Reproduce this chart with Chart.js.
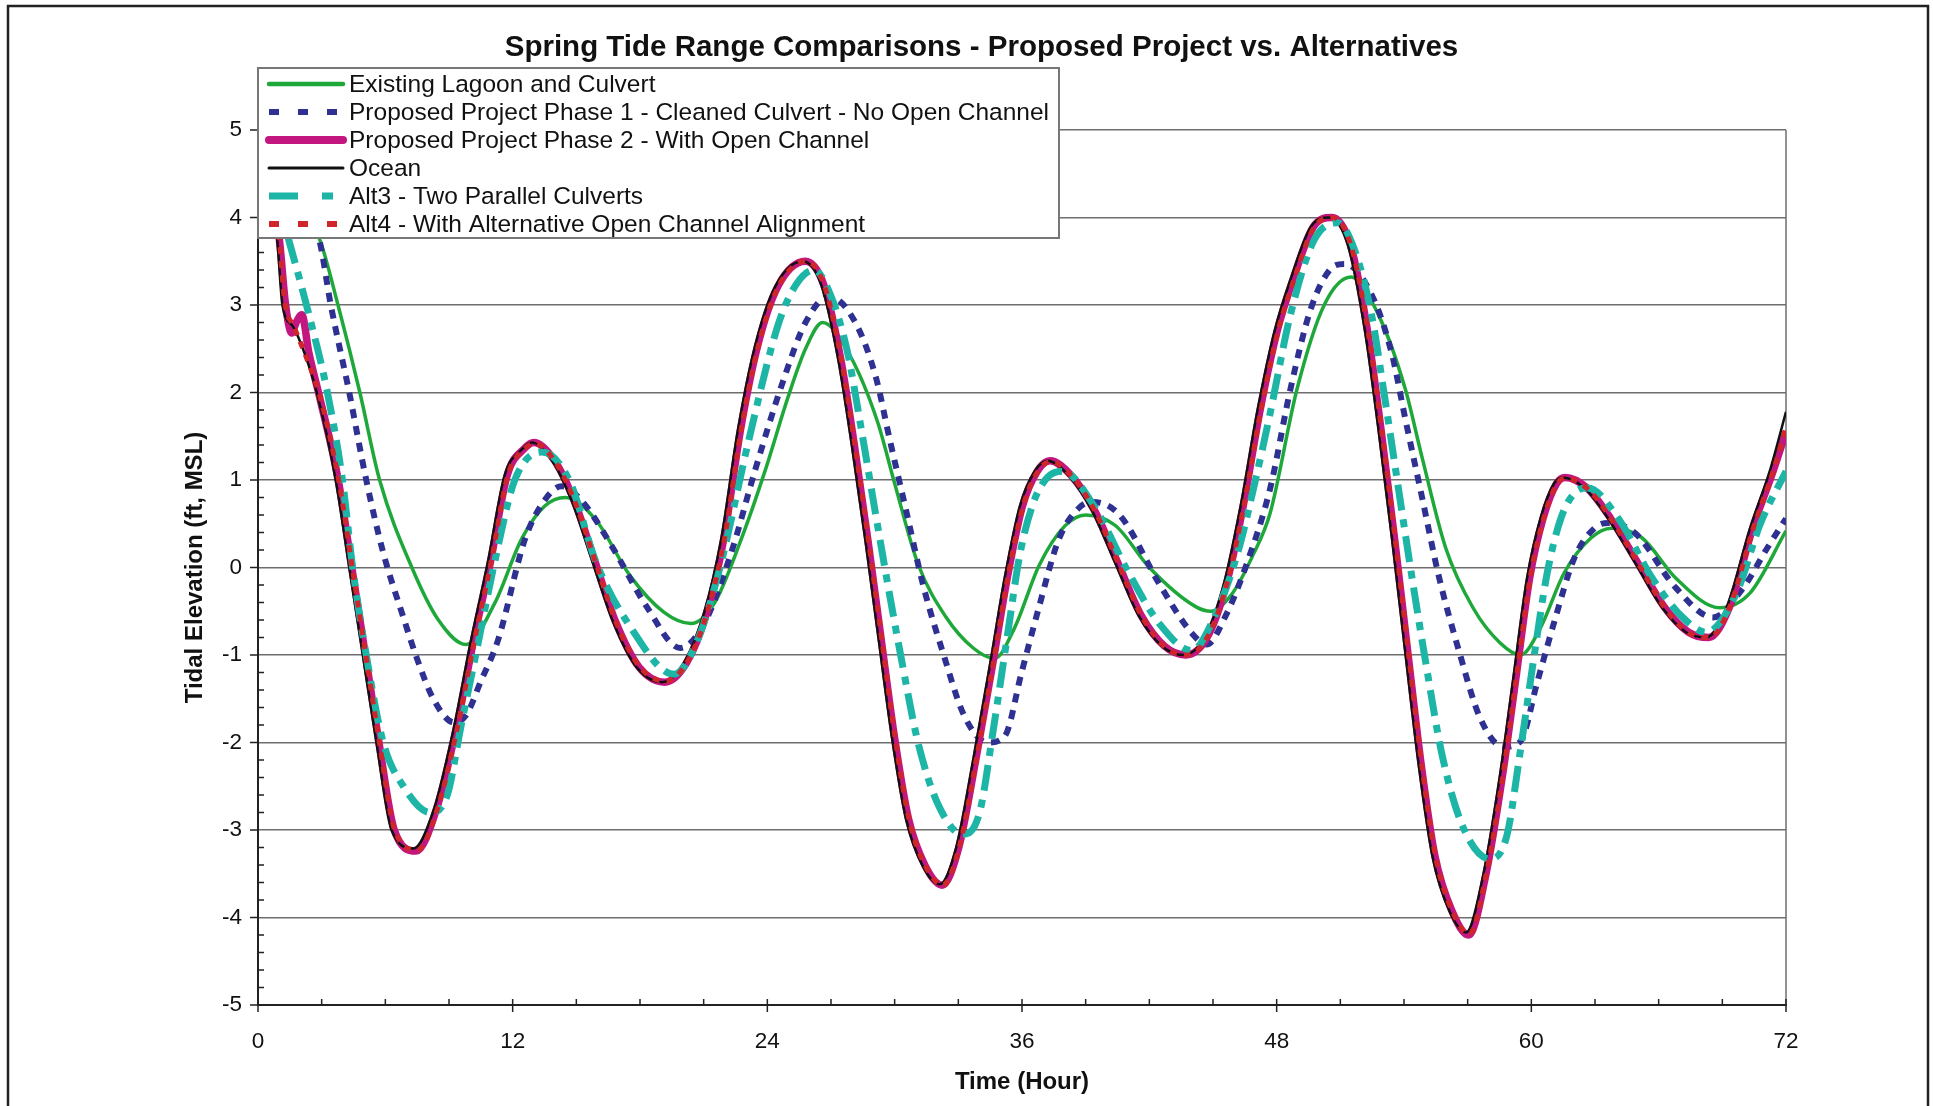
<!DOCTYPE html>
<html>
<head>
<meta charset="utf-8">
<title>Spring Tide Range Comparisons</title>
<script src="https://cdn.jsdelivr.net/npm/chart.js@4.4.1/dist/chart.umd.min.js"></script>
<style>
  html, body { margin: 0; padding: 0; background: #fff; }
  #wrap { position: relative; width: 1933px; height: 1106px; }
</style>
</head>
<body>
<div id="wrap"><canvas id="tideChart" width="1933" height="1106"></canvas></div>
<script>
// axis ticks
const xTicks = [0, 12, 24, 36, 48, 60, 72];
const yTicks = [-5, -4, -3, -2, -1, 0, 1, 2, 3, 4, 5];

const chartTitle = 'Spring Tide Range Comparisons - Proposed Project vs. Alternatives';
const seriesNames = [
    'Existing Lagoon and Culvert',
    'Proposed Project Phase 1 - Cleaned Culvert - No Open Channel',
    'Proposed Project Phase 2 - With Open Channel',
    'Ocean',
    'Alt3 - Two Parallel Culverts',
    'Alt4 - With Alternative Open Channel Alignment'
];

// [hour, elevation ft MSL]
const existing = [
    [0, 4.55], [1.5, 4.35], [2.92, 3.74], [3.77, 3.0], [4.8, 2.0], [5.73, 1.0], [7.25, 0.0], [8.5, -0.6],
    [9.8, -0.88], [11.15, -0.41], [12.43, 0.33], [13.5, 0.7], [14.5, 0.8], [15.93, 0.54], [17.52, -0.09],
    [19.12, -0.51], [20.4, -0.64], [21.5, -0.41], [22.78, 0.33], [23.9, 1.11], [24.98, 1.95], [25.8, 2.5],
    [26.6, 2.8], [27.9, 2.42], [29.2, 1.66], [30.0, 0.96], [31.1, 0.04], [32.4, -0.56], [33.7, -0.92],
    [34.7, -1.04], [35.65, -0.69], [36.8, 0.02], [38.0, 0.47], [39.0, 0.6], [40.4, 0.48], [42.0, 0.0],
    [44.2, -0.45], [44.9, -0.5], [45.9, -0.3], [46.9, 0.15], [47.69, 0.62], [48.96, 2.04], [50.24, 3.0],
    [51.51, 3.32], [52.79, 2.89], [54.06, 2.04], [54.86, 1.25], [55.97, 0.22], [57.25, -0.46], [58.52, -0.86],
    [59.48, -1.0], [60.43, -0.69], [61.55, -0.06], [62.82, 0.34], [63.78, 0.45], [65.21, 0.34], [66.8, -0.12],
    [68.88, -0.46], [70.31, -0.29], [72, 0.42]
];

const phase1 = [
    [0, 4.6], [1.5, 4.3], [2.87, 3.76], [3.43, 3.0], [4.3, 2.0], [5.1, 1.0], [5.9, 0.17], [6.85, -0.57],
    [7.49, -1.04], [8.28, -1.51], [9.24, -1.77], [9.8, -1.69], [10.5, -1.3], [11.31, -0.83], [12.59, 0.33],
    [13.54, 0.78], [14.3, 0.93], [15.3, 0.75], [16.73, 0.22], [18.32, -0.45], [19.9, -0.92], [21.0, -0.65],
    [22.3, 0.17], [23.42, 1.11], [24.7, 2.1], [25.8, 2.8], [26.9, 3.1], [28.17, 2.79], [29.13, 2.16],
    [29.76, 1.47], [30.56, 0.63], [31.36, -0.22], [32.31, -1.0], [33.27, -1.69], [34.38, -2.0], [35.18, -1.93],
    [35.98, -1.2], [36.78, -0.47], [37.73, 0.32], [38.68, 0.68], [39.32, 0.75], [40.6, 0.6], [42.5, -0.2],
    [44.0, -0.75], [44.7, -0.88], [45.6, -0.55], [46.6, 0.05], [47.69, 0.9], [48.65, 2.04], [49.6, 2.95],
    [50.5, 3.4], [51.2, 3.47], [52.47, 3.12], [53.43, 2.44], [54.06, 1.7], [54.86, 0.79], [55.66, -0.12],
    [56.61, -0.97], [57.57, -1.71], [58.68, -2.05], [59.48, -1.99], [60.28, -1.31], [61.07, -0.63],
    [62.03, 0.11], [62.98, 0.45], [63.62, 0.51], [64.9, 0.39], [66.8, -0.23], [68.56, -0.57], [69.99, -0.23],
    [71.11, 0.22], [72, 0.56]
];

const phase2 = [
    [0, 4.75], [0.5, 4.35], [1.0, 3.76], [1.3, 3.0], [1.59, 2.68], [1.8, 2.8], [2.06, 2.89], [2.4, 2.45],
    [2.9, 1.95], [3.78, 1.0], [4.42, 0.0], [5.06, -1.0], [5.7, -2.0], [6.42, -3.0], [7.45, -3.24], [8.4, -2.77],
    [9.36, -1.82], [10.16, -0.83], [10.95, 0.06], [11.75, 1.06], [12.55, 1.36], [13.0, 1.43], [13.98, 1.22],
    [14.92, 0.75], [15.89, 0.06], [16.85, -0.62], [17.96, -1.14], [19.16, -1.31], [20.19, -1.09], [21.15, -0.51],
    [21.95, 0.33], [22.74, 1.58], [23.54, 2.53], [24.49, 3.21], [25.79, 3.5], [26.66, 3.23], [27.46, 2.38],
    [28.1, 1.4], [28.74, 0.31], [29.37, -0.83], [30.01, -1.97], [30.65, -2.87], [31.44, -3.41], [32.24, -3.63],
    [33.02, -3.2], [33.82, -2.2], [34.62, -1.1], [35.32, -0.1], [36.02, 0.7], [36.72, 1.1], [37.32, 1.22],
    [38.32, 1.05], [39.42, 0.65], [40.52, 0.05], [41.62, -0.55], [42.72, -0.9], [43.72, -1.0], [44.72, -0.8],
    [45.62, -0.2], [46.42, 0.7], [47.22, 1.8], [48.02, 2.7], [48.77, 3.29], [49.72, 3.89], [50.6, 4.0],
    [51.47, 3.69], [52.27, 2.72], [52.91, 1.59], [53.55, 0.34], [54.18, -0.97], [54.82, -2.27], [55.46, -3.3],
    [56.25, -3.92], [57.05, -4.2], [57.85, -3.52], [58.64, -2.38], [59.28, -1.25], [59.92, -0.12], [60.55, 0.56],
    [61.19, 0.96], [61.59, 1.03], [62.62, 0.91], [63.74, 0.56], [65.02, 0.05], [66.29, -0.46], [67.41, -0.74],
    [68.36, -0.8], [69.32, -0.46], [70.43, 0.45], [71.39, 1.1], [72, 1.55]
];

const ocean = [
    [0, 4.7], [0.5, 4.3], [0.9, 3.76], [1.15, 3.0], [1.66, 2.75], [2.13, 2.49], [2.77, 2.0], [3.66, 1.0],
    [4.3, 0.0], [4.94, -1.0], [5.58, -2.0], [6.29, -3.0], [7.33, -3.21], [8.28, -2.77], [9.24, -1.82],
    [10.04, -0.83], [10.83, 0.06], [11.63, 1.06], [12.43, 1.35], [12.9, 1.43], [13.86, 1.22], [14.8, 0.75],
    [15.77, 0.06], [16.73, -0.62], [17.84, -1.14], [19.04, -1.31], [20.07, -1.09], [21.03, -0.51], [21.83, 0.33],
    [22.62, 1.58], [23.42, 2.53], [24.37, 3.21], [25.67, 3.5], [26.54, 3.23], [27.34, 2.38], [27.98, 1.4],
    [28.62, 0.31], [29.25, -0.83], [29.89, -1.97], [30.53, -2.87], [31.32, -3.41], [32.12, -3.62], [32.9, -3.2],
    [33.7, -2.2], [34.5, -1.1], [35.2, -0.1], [35.9, 0.7], [36.6, 1.1], [37.2, 1.22], [38.2, 1.05], [39.3, 0.65],
    [40.4, 0.05], [41.5, -0.55], [42.6, -0.9], [43.6, -1.0], [44.6, -0.8], [45.5, -0.2], [46.3, 0.7], [47.1, 1.8],
    [47.9, 2.7], [48.65, 3.29], [49.6, 3.89], [50.48, 4.0], [51.35, 3.69], [52.15, 2.72], [52.79, 1.59],
    [53.43, 0.34], [54.06, -0.97], [54.7, -2.27], [55.34, -3.3], [56.13, -3.92], [56.93, -4.17], [57.73, -3.52],
    [58.52, -2.38], [59.16, -1.25], [59.8, -0.12], [60.43, 0.56], [61.07, 0.96], [61.47, 1.03], [62.5, 0.91],
    [63.62, 0.56], [64.9, 0.05], [66.17, -0.46], [67.29, -0.74], [68.24, -0.8], [69.2, -0.46], [70.31, 0.45],
    [71.27, 1.13], [72, 1.78]
];

const alt3 = [
    [0, 4.9], [0.7, 4.4], [1.43, 3.76], [2.39, 2.9], [3.27, 2.0], [3.98, 1.0], [4.46, 0.0], [5.1, -1.0],
    [5.9, -2.0], [6.85, -2.5], [8.12, -2.8], [8.92, -2.6], [9.56, -1.82], [10.36, -0.88], [11.15, 0.06],
    [12.1, 1.0], [13.38, 1.32], [14.66, 1.0], [15.93, 0.06], [17.52, -0.67], [19.6, -1.22], [20.71, -0.83],
    [21.83, 0.06], [23.1, 1.43], [24.53, 2.79], [25.4, 3.25], [26.2, 3.4], [26.97, 3.12], [27.77, 2.47],
    [28.4, 1.62], [29.04, 0.7], [29.68, -0.2], [30.32, -1.05], [31.11, -2.01], [32.07, -2.72], [33.2, -3.05],
    [34.0, -2.8], [34.65, -1.85], [35.3, -0.8], [35.9, 0.15], [36.55, 0.75], [37.2, 1.03], [37.9, 1.1],
    [39.4, 0.7], [41.0, -0.05], [42.5, -0.65], [44.0, -0.95], [45.0, -0.6], [46.2, 0.2], [47.0, 1.0],
    [47.69, 1.76], [48.65, 2.89], [49.76, 3.74], [50.88, 3.94], [51.67, 3.63], [52.47, 2.89], [53.1, 1.93],
    [53.74, 0.9], [54.38, -0.12], [55.02, -1.08], [55.81, -2.16], [56.77, -2.96], [58.05, -3.33], [58.84, -3.07],
    [59.48, -2.1], [60.12, -1.03], [60.75, -0.06], [61.39, 0.56], [62.03, 0.85], [62.66, 0.91], [64.1, 0.56],
    [65.69, -0.12], [67.13, -0.57], [68.24, -0.74], [69.67, -0.29], [70.79, 0.5], [72, 1.1]
];

const alt4 = [
    [0, 4.75], [0.5, 4.35], [1.0, 3.76], [1.25, 3.05], [1.7, 2.75], [2.2, 2.45], [2.9, 1.97], [3.8, 1.0],
    [4.44, 0.0], [5.08, -1.0], [5.72, -2.0], [6.44, -3.0], [7.5, -3.23], [8.44, -2.77], [9.4, -1.82],
    [10.2, -0.83], [10.98, 0.06], [11.78, 1.06], [12.58, 1.36], [13.02, 1.42], [14.0, 1.21], [14.95, 0.74],
    [15.92, 0.05], [16.88, -0.63], [18.0, -1.14], [19.2, -1.3], [20.22, -1.08], [21.18, -0.5], [21.98, 0.33],
    [22.77, 1.58], [23.57, 2.53], [24.52, 3.21], [25.82, 3.5], [26.69, 3.22], [27.49, 2.37], [28.13, 1.39],
    [28.77, 0.3], [29.4, -0.84], [30.04, -1.98], [30.68, -2.88], [31.47, -3.42], [32.27, -3.63], [33.05, -3.19],
    [33.85, -2.19], [34.65, -1.09], [35.35, -0.09], [36.05, 0.7], [36.75, 1.1], [37.35, 1.21], [38.35, 1.04],
    [39.45, 0.64], [40.55, 0.04], [41.65, -0.56], [42.75, -0.91], [43.75, -1.0], [44.75, -0.79], [45.65, -0.19],
    [46.45, 0.7], [47.25, 1.79], [48.05, 2.69], [48.8, 3.28], [49.75, 3.88], [50.63, 4.0], [51.5, 3.68],
    [52.3, 2.71], [52.94, 1.58], [53.58, 0.33], [54.21, -0.98], [54.85, -2.28], [55.49, -3.31], [56.28, -3.93],
    [57.08, -4.19], [57.88, -3.5], [58.67, -2.36], [59.31, -1.23], [59.95, -0.11], [60.58, 0.56], [61.22, 0.96],
    [61.62, 1.02], [62.65, 0.9], [63.77, 0.55], [65.05, 0.04], [66.32, -0.47], [67.44, -0.75], [68.39, -0.8],
    [69.35, -0.45], [70.46, 0.45], [71.42, 1.12], [72, 1.6]
];

const seriesData = [existing, phase1, phase2, ocean, alt3, alt4];

// line looks, same order as seriesNames
const seriesStyle = [
    { color: '#1fa83a', width: 3.5, dash: [], keyWidth: 4.5, keyDash: [] },
    { color: '#2e3192', width: 6, dash: [9, 8], keyWidth: 6, keyDash: [10, 19] },
    { color: '#c3177f', width: 7.5, dash: [], keyWidth: 8, keyDash: [] },
    { color: '#111111', width: 2.5, dash: [], keyWidth: 3, keyDash: [] },
    { color: '#1db5a6', width: 7, dash: [26, 9, 8, 9], keyWidth: 7, keyDash: [29, 24, 11, 40] },
    { color: '#d0262b', width: 5, dash: [7, 7], keyWidth: 6, keyDash: [10, 19] }
];

const FONT = "'Liberation Sans', Arial, sans-serif";
Chart.defaults.font.family = FONT;

// extra axis ticks, plot border, legend box and outer frame
const tideDecor = {
    id: 'tideDecor',
    beforeDatasetsDraw(chart) {
        const { ctx, chartArea: a, scales: { x, y } } = chart;
        ctx.save();
        ctx.strokeStyle = '#6e6e6e';
        ctx.lineWidth = 1.5;
        ctx.beginPath();
        ctx.moveTo(a.right, a.top);
        ctx.lineTo(a.right, a.bottom);
        ctx.stroke();

        ctx.strokeStyle = '#222';
        ctx.lineWidth = 1.5;
        ctx.beginPath();
        yTicks.forEach(v => {
            const py = y.getPixelForValue(v);
            ctx.moveTo(a.left - 8, py);
            ctx.lineTo(a.left, py);
        });
        for (let k = -25; k <= 25; k++) {
            if (k % 5 === 0) continue;
            const py = y.getPixelForValue(k / 5);
            ctx.moveTo(a.left, py);
            ctx.lineTo(a.left + 6, py);
        }
        for (let h = 0; h <= 72; h += 3) {
            const px = x.getPixelForValue(h);
            ctx.moveTo(px, a.bottom - 6);
            ctx.lineTo(px, h % 12 === 0 ? a.bottom + 7 : a.bottom);
        }
        ctx.stroke();
        ctx.restore();
    },
    afterDatasetsDraw(chart) {
        const { ctx, chartArea: a } = chart;
        const box = { x: a.left, y: 68, w: 801, h: 170 };
        ctx.save();
        ctx.fillStyle = '#fff';
        ctx.fillRect(box.x, box.y, box.w, box.h);
        ctx.strokeStyle = '#777';
        ctx.lineWidth = 2;
        ctx.strokeRect(box.x, box.y, box.w, box.h);

        ctx.font = '24.5px ' + FONT;
        ctx.fillStyle = '#111';
        ctx.textBaseline = 'middle';
        seriesNames.forEach((name, i) => {
            const st = seriesStyle[i];
            const cy = box.y + 16 + i * 28;
            ctx.strokeStyle = st.color;
            ctx.lineWidth = st.keyWidth;
            ctx.setLineDash(st.keyDash);
            ctx.lineCap = st.keyDash.length ? 'butt' : 'round';
            ctx.beginPath();
            ctx.moveTo(box.x + 11, cy);
            ctx.lineTo(box.x + 85, cy);
            ctx.stroke();
            ctx.setLineDash([]);
            ctx.fillText(name, box.x + 91, cy + 1);
        });
        ctx.restore();
    },
    afterDraw(chart) {
        const { ctx } = chart;
        ctx.save();
        ctx.strokeStyle = '#222';
        ctx.lineWidth = 2.5;
        ctx.strokeRect(8, 6, 1920, 1120);
        ctx.restore();
    }
};

new Chart(document.getElementById('tideChart').getContext('2d'), {
    type: 'line',
    data: {
        datasets: seriesData.map((pts, i) => ({
            label: seriesNames[i],
            data: pts.map(([t, v]) => ({ x: t, y: v })),
            borderColor: seriesStyle[i].color,
            borderWidth: seriesStyle[i].width,
            borderDash: seriesStyle[i].dash,
            borderCapStyle: 'butt',
            borderJoinStyle: 'round',
            pointRadius: 0,
            fill: false,
            cubicInterpolationMode: 'monotone',
            order: seriesData.length - i
        }))
    },
    options: {
        responsive: false,
        animation: false,
        events: [],
        layout: { padding: { top: 0, left: 177, right: 147, bottom: 5 } },
        plugins: {
            legend: { display: false },
            tooltip: { enabled: false },
            title: {
                display: true,
                text: chartTitle,
                color: '#111',
                font: { size: 29.5, weight: 'bold' },
                padding: { top: 30, bottom: 64.6 }
            }
        },
        scales: {
            x: {
                type: 'linear',
                min: 0,
                max: 72,
                afterBuildTicks: s => { s.ticks = xTicks.map(v => ({ value: v })); },
                afterFit: s => { s.height = 96; },
                grid: { display: false, drawTicks: false },
                border: { display: true, color: '#222', width: 2 },
                ticks: { color: '#111', font: { size: 22.5 }, padding: 23, maxRotation: 0 },
                title: {
                    display: true, text: 'Time (Hour)', color: '#111',
                    font: { size: 24, weight: 'bold' }, padding: { top: 4, bottom: 4 }
                }
            },
            y: {
                type: 'linear',
                min: -5,
                max: 5,
                afterBuildTicks: s => { s.ticks = yTicks.map(v => ({ value: v })); },
                afterFit: s => { s.width = 81; },
                grid: { color: '#6e6e6e', lineWidth: 1.5, drawTicks: false },
                border: { display: true, color: '#222', width: 2 },
                ticks: { color: '#111', font: { size: 22.5 }, padding: 16 },
                title: {
                    display: true, text: 'Tidal Elevation (ft, MSL)', color: '#111',
                    font: { size: 24, weight: 'bold' }, padding: { top: 4, bottom: 4 }
                }
            }
        }
    },
    plugins: [tideDecor]
});
</script>
</body>
</html>
